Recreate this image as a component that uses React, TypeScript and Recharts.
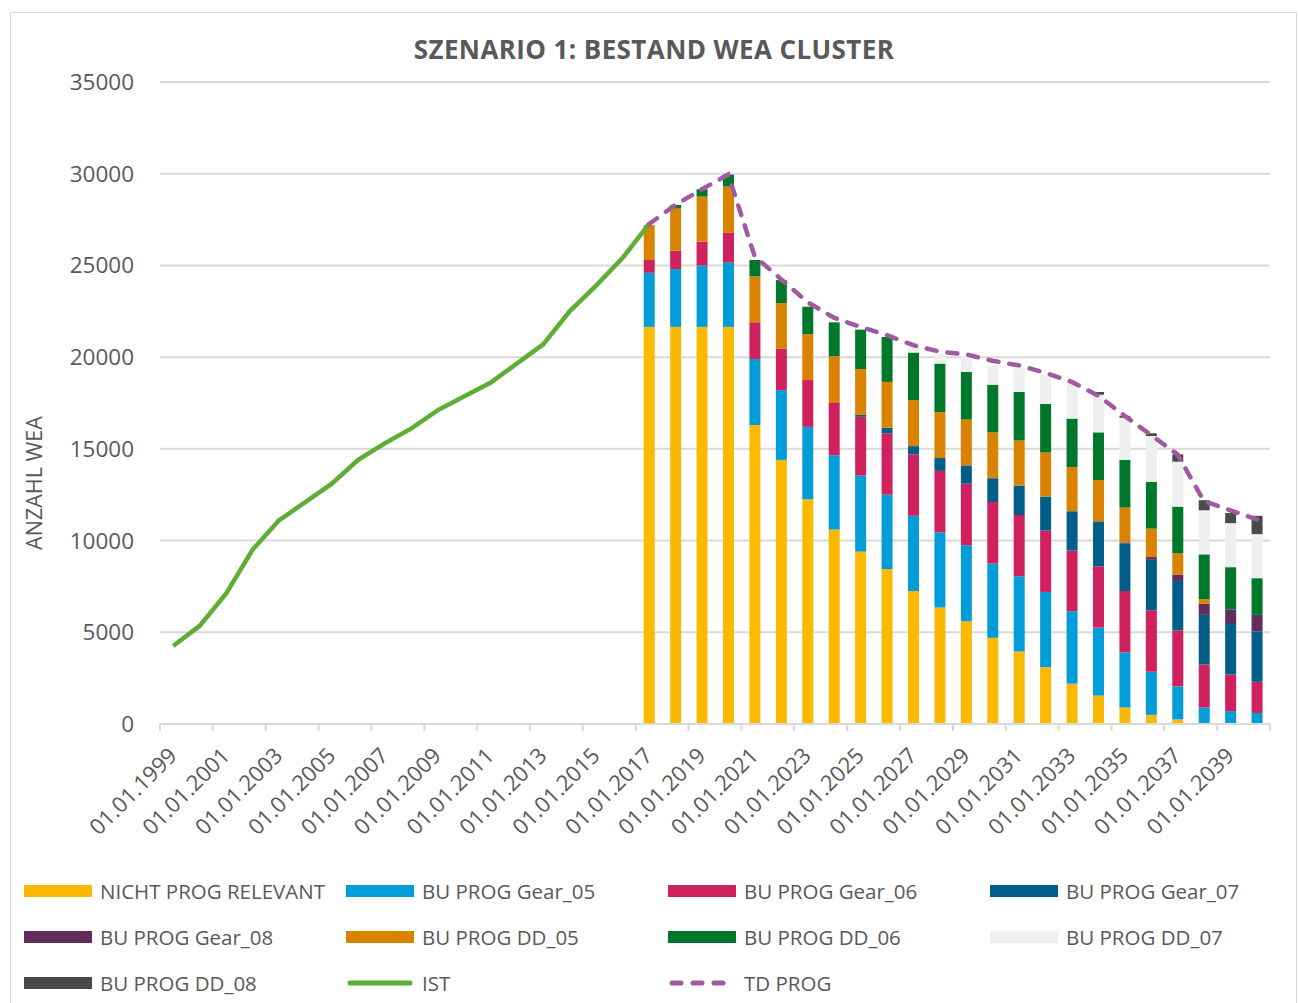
import React from "react"
import { ComposedChart, Bar, Line, XAxis, YAxis, CartesianGrid } from "recharts"

// categories: one per year, 1999 .. 2040
const YEARS = [
  "01.01.1999", "01.01.2000", "01.01.2001", "01.01.2002", "01.01.2003", "01.01.2004",
  "01.01.2005", "01.01.2006", "01.01.2007", "01.01.2008", "01.01.2009", "01.01.2010",
  "01.01.2011", "01.01.2012", "01.01.2013", "01.01.2014", "01.01.2015", "01.01.2016",
  "01.01.2017", "01.01.2018", "01.01.2019", "01.01.2020", "01.01.2021", "01.01.2022",
  "01.01.2023", "01.01.2024", "01.01.2025", "01.01.2026", "01.01.2027", "01.01.2028",
  "01.01.2029", "01.01.2030", "01.01.2031", "01.01.2032", "01.01.2033", "01.01.2034",
  "01.01.2035", "01.01.2036", "01.01.2037", "01.01.2038", "01.01.2039", "01.01.2040",
]

// IST: 1999 .. 2017
const IST = [
  4250, 5350, 7100, 9500, 11100, 12100, 13100, 14400, 15300, 16100,
  17100, 17850, 18600, 19650, 20700, 22500, 23900, 25400, 27250,
]

// forecast series: 2017 .. 2040
const PROG_START = 18

const NICHT_PROG_RELEVANT = [21650, 21650, 21650, 21650, 16300, 14400, 12250, 10600, 9400, 8450, 7250, 6350, 5600, 4700, 3950, 3100, 2200, 1550, 900, 500, 250, 0, 0, 0]
const GEAR_05 = [2950, 3150, 3350, 3500, 3600, 3800, 3950, 4050, 4150, 4050, 4100, 4100, 4150, 4050, 4100, 4100, 3950, 3700, 3000, 2350, 1800, 900, 700, 600]
const GEAR_06 = [700, 1000, 1300, 1650, 2000, 2250, 2550, 2850, 3200, 3350, 3350, 3350, 3350, 3350, 3350, 3350, 3300, 3350, 3350, 3350, 3050, 2350, 2000, 1700]
const GEAR_07 = [0, 0, 0, 0, 0, 0, 0, 0, 100, 300, 450, 700, 1000, 1300, 1600, 1850, 2150, 2450, 2600, 2750, 2700, 2700, 2750, 2750]
const GEAR_08 = [0, 0, 0, 0, 0, 0, 0, 0, 0, 0, 0, 0, 0, 0, 0, 0, 0, 0, 50, 150, 350, 600, 800, 900]
const DD_05 = [1900, 2300, 2450, 2500, 2500, 2500, 2500, 2550, 2500, 2500, 2500, 2500, 2500, 2500, 2450, 2400, 2400, 2250, 1900, 1550, 1150, 250, 0, 0]
const DD_06 = [0, 200, 400, 650, 900, 1250, 1500, 1850, 2150, 2450, 2600, 2650, 2600, 2600, 2650, 2650, 2650, 2600, 2600, 2550, 2550, 2450, 2300, 2000]
const DD_07 = [0, 0, 0, 0, 0, 0, 0, 0, 0, 0, 300, 550, 850, 1050, 1300, 1600, 2050, 2050, 2300, 2500, 2450, 2400, 2400, 2400]
const DD_08 = [0, 0, 0, 0, 0, 0, 0, 0, 0, 0, 0, 0, 0, 0, 0, 0, 0, 150, 100, 150, 400, 550, 550, 1000]
const TD_PROG = [27250, 28300, 29150, 29950, 25500, 24250, 23000, 22150, 21650, 21200, 20650, 20300, 20150, 19800, 19550, 19150, 18650, 17900, 16800, 15750, 14700, 12150, 11650, 11150]

const Y_TICKS = [0, 5000, 10000, 15000, 20000, 25000, 30000, 35000]

const STACKS = [
  { key: "npr", name: "NICHT PROG RELEVANT", color: "#FBBA00", values: NICHT_PROG_RELEVANT },
  { key: "g05", name: "BU PROG Gear_05", color: "#009DD8", values: GEAR_05 },
  { key: "g06", name: "BU PROG Gear_06", color: "#D0215F", values: GEAR_06 },
  { key: "g07", name: "BU PROG Gear_07", color: "#005E88", values: GEAR_07 },
  { key: "g08", name: "BU PROG Gear_08", color: "#612D5F", values: GEAR_08 },
  { key: "dd05", name: "BU PROG DD_05", color: "#D98300", values: DD_05 },
  { key: "dd06", name: "BU PROG DD_06", color: "#00772A", values: DD_06 },
  { key: "dd07", name: "BU PROG DD_07", color: "#EEF0EF", values: DD_07 },
  { key: "dd08", name: "BU PROG DD_08", color: "#4A4A4A", values: DD_08 },
]

const IST_COLOR = "#5DAE32"
const TD_COLOR = "#A05AA0"
const TEXT = "#595959"
const GRID = "#D9D9D9"
const FONT = "'Open Sans', sans-serif"

const data = YEARS.map((date, i) => {
  const row: Record<string, string | number | null> = { date }
  row.ist = i < IST.length ? IST[i] : null
  const j = i - PROG_START
  for (const s of STACKS) row[s.key] = j >= 0 ? s.values[j] : null
  row.td = j >= 0 ? TD_PROG[j] : null
  return row
})

function DateTick(props: any) {
  const { x, y, payload, index } = props
  const half = payload?.offset ?? 13
  const even = index % 2 === 0
  const last = index === YEARS.length - 1
  return (
    <g>
      {even && <line x1={x - half} x2={x - half} y1={y} y2={y + 7} stroke={GRID} strokeWidth={2} />}
      {last && <line x1={x + half} x2={x + half} y1={y} y2={y + 7} stroke={GRID} strokeWidth={2} />}
      {even && (
        <text
          transform={`translate(${x + 5},${y + 33}) rotate(-45)`}
          textAnchor="end"
          fill={TEXT}
          fontSize={22}
          fontFamily={FONT}
        >
          {payload.value}
        </text>
      )}
    </g>
  )
}

const LEGEND_ITEMS = [
  ...STACKS.map((s) => ({ name: s.name, color: s.color, kind: "bar" })),
  { name: "IST", color: IST_COLOR, kind: "line" },
  { name: "TD PROG", color: TD_COLOR, kind: "dash" },
]

function Swatch({ color, kind }: { color: string; kind: string }) {
  if (kind === "bar") return <div style={{ width: 68, height: 12, background: color }} />
  return (
    <svg width={68} height={12}>
      <line
        x1={4}
        x2={64}
        y1={6}
        y2={6}
        stroke={color}
        strokeWidth={5}
        strokeLinecap="round"
        strokeDasharray={kind === "dash" ? "9 12" : undefined}
      />
    </svg>
  )
}

function ChartLegend() {
  return (
    <div style={{ position: "absolute", left: 24, top: 876, width: 1288 }}>
      {LEGEND_ITEMS.map((it, i) => (
        <div
          key={it.name}
          style={{
            position: "absolute",
            left: (i % 4) * 322,
            top: Math.floor(i / 4) * 46,
            display: "flex",
            alignItems: "center",
            height: 30,
            gap: 8,
            fontFamily: FONT,
            fontSize: 20.5,
            color: TEXT,
            whiteSpace: "nowrap",
          }}
        >
          <Swatch color={it.color} kind={it.kind} />
          <span>{it.name}</span>
        </div>
      ))}
    </div>
  )
}

export default function App() {
  return (
    <div style={{ position: "absolute", left: 0, top: 0, width: 1298, height: 1003, overflow: "hidden", background: "#fff" }}>
      <div style={{ position: "absolute", left: 10, top: 12, width: 1285, height: 1000, border: `1px solid ${GRID}` }} />
      <div
        style={{
          position: "absolute",
          left: 0,
          width: 1308,
          top: 31,
          textAlign: "center",
          fontFamily: FONT,
          fontWeight: 700,
          fontSize: 26,
          letterSpacing: 0.4,
          color: TEXT,
        }}
      >
        SZENARIO 1: BESTAND WEA CLUSTER
      </div>
      <div
        style={{
          position: "absolute",
          left: 33,
          top: 483,
          transform: "translate(-50%, -50%) rotate(-90deg)",
          fontFamily: FONT,
          fontSize: 21.5,
          color: TEXT,
          whiteSpace: "nowrap",
        }}
      >
        ANZAHL WEA
      </div>
      <div style={{ position: "absolute", left: 0, top: 0 }}>
        <ComposedChart
          width={1298}
          height={1003}
          data={data}
          margin={{ top: 82, right: 28, left: 20, bottom: 0 }}
          barSize={11}
        >
          <CartesianGrid vertical={false} stroke={GRID} strokeWidth={2} />
          <XAxis
            dataKey="date"
            interval={0}
            height={279}
            tickLine={false}
            tickSize={0}
            tickMargin={0}
            axisLine={{ stroke: GRID, strokeWidth: 2 }}
            tick={<DateTick />}
          />
          <YAxis
            width={140}
            domain={[0, 35000]}
            ticks={Y_TICKS}
            axisLine={false}
            tickLine={false}
            tickMargin={20}
            tick={{ fill: TEXT, fontSize: 22.5, fontFamily: FONT }}
          />
          {STACKS.map((s) => (
            <Bar key={s.key} dataKey={s.key} name={s.name} stackId="bu" fill={s.color} isAnimationActive={false} />
          ))}
          <Line
            type="linear"
            dataKey="ist"
            name="IST"
            stroke={IST_COLOR}
            strokeWidth={4.5}
            dot={false}
            activeDot={false}
            isAnimationActive={false}
          />
          <Line
            type="linear"
            dataKey="td"
            name="TD PROG"
            stroke={TD_COLOR}
            strokeWidth={4.5}
            strokeDasharray="10 11"
            strokeLinecap="round"
            dot={false}
            activeDot={false}
            isAnimationActive={false}
          />
        </ComposedChart>
      </div>
      <ChartLegend />
    </div>
  )
}
